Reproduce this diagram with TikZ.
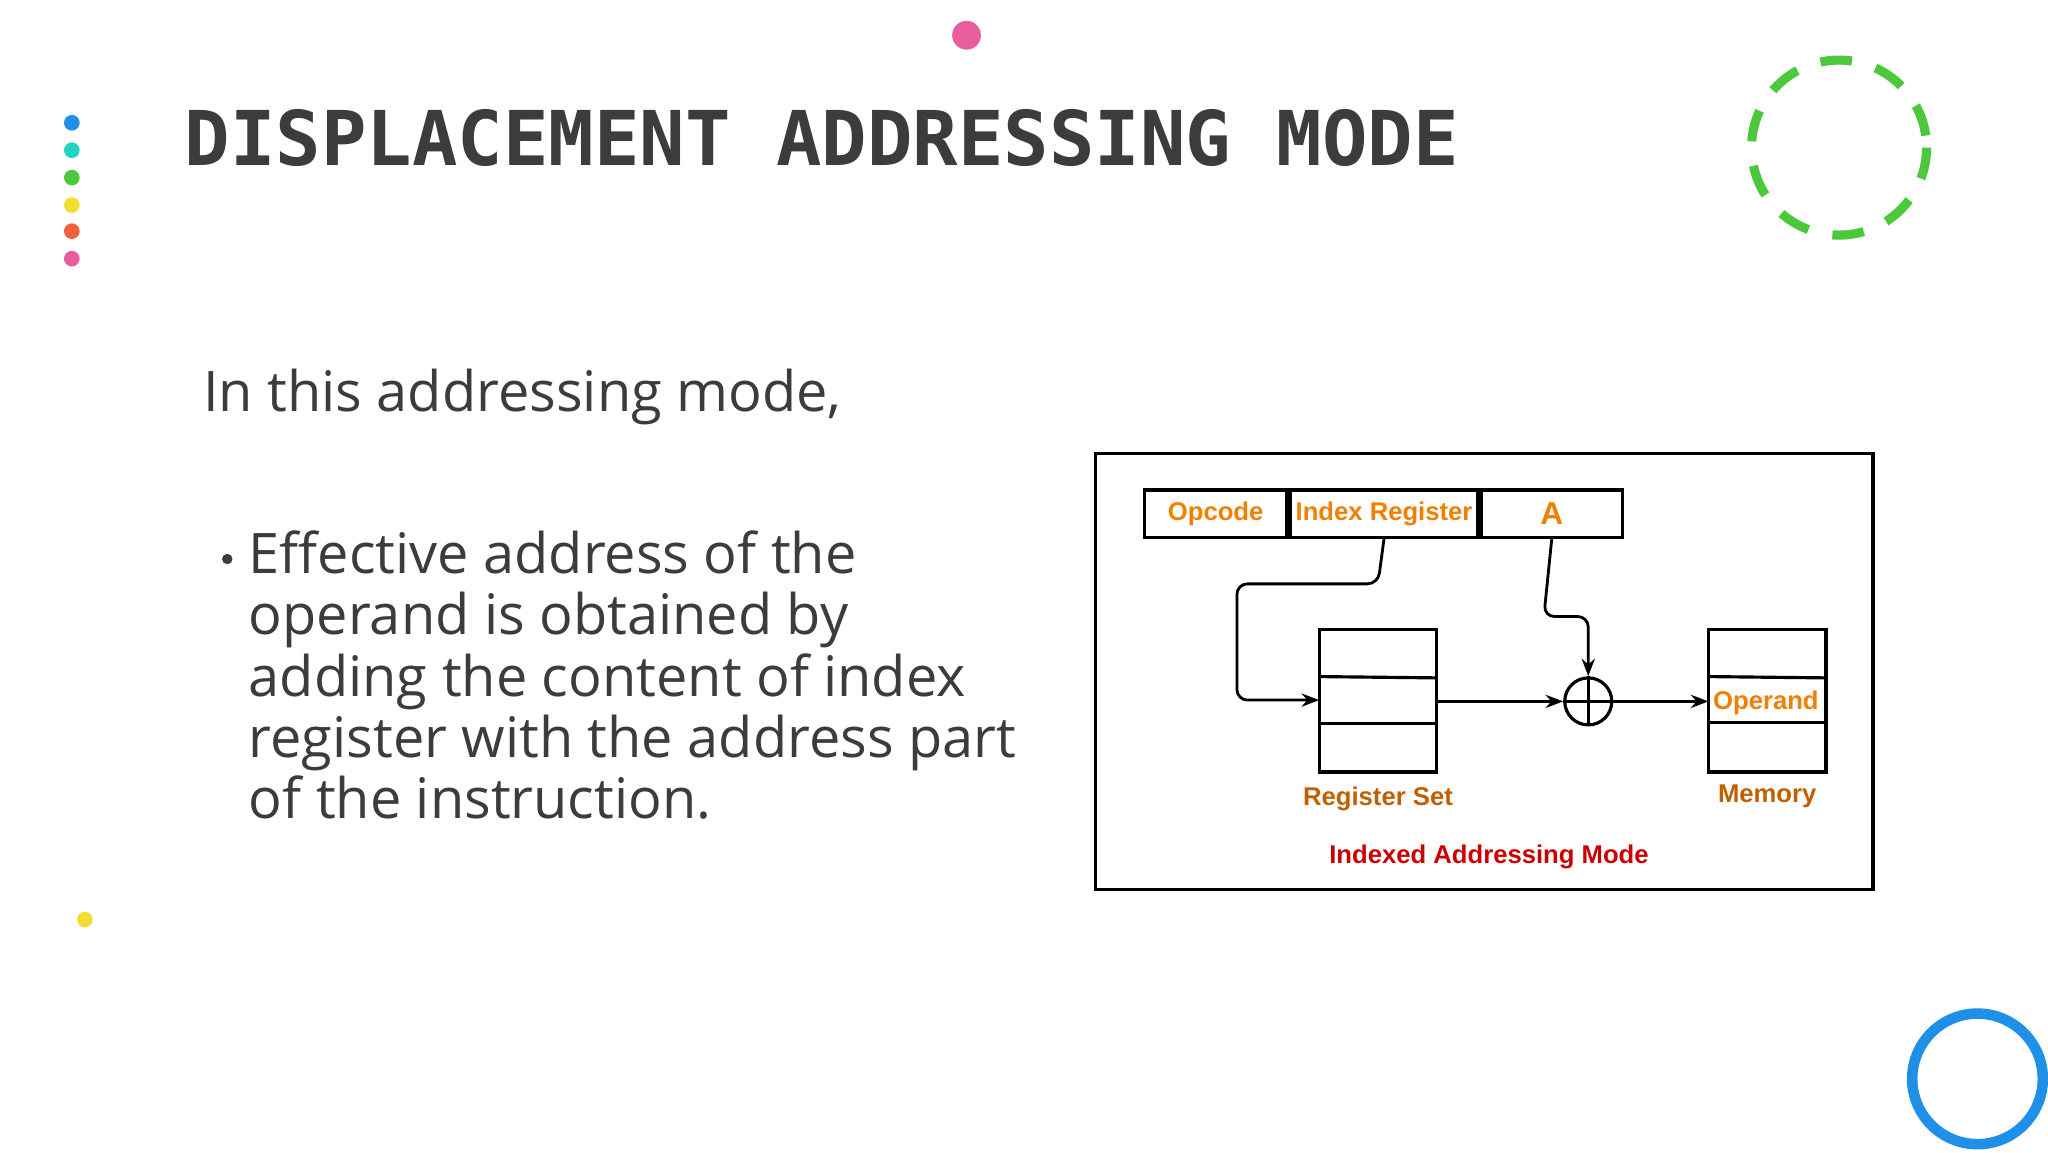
\documentclass[tikz,border=0pt]{standalone}
\usepackage{fontspec}
\setmainfont{Open Sans}
\newfontfamily\titlefont{DejaVu Sans Mono}
\newfontfamily\figfont{Liberation Sans}
\usetikzlibrary{positioning,arrows.meta}
\definecolor{txtgray}{HTML}{3C3C3C}
\definecolor{figorange}{HTML}{F08000}
\definecolor{figbrown}{HTML}{C06000}
\definecolor{figred}{HTML}{CC0000}
\definecolor{d1}{HTML}{1E90E8}
\definecolor{d2}{HTML}{22D3C0}
\definecolor{d3}{HTML}{4CC83C}
\definecolor{d4}{HTML}{F2DE30}
\definecolor{d5}{HTML}{F2603C}
\definecolor{d6}{HTML}{E85D9E}
\tikzset{
  figtext/.style={font=\figfont\bfseries\fontsize{7.3}{9}\selectfont},
  cell/.style={draw,line width=0.9pt,minimum height=36*0.1306mm,inner sep=0pt,
    figtext,text=figorange},
  conn/.style={line width=0.8pt,-{Stealth[length=5pt]},rounded corners=3pt}
}
\newcommand{\regbox}[3]{
\draw [line width=0.9pt] (#1,482) rectangle (#1+90,591);
\draw [line width=0.9pt] (#1,#2) -- (#1+90,#2+1);
\draw [line width=0.9pt] (#1,#3) -- (#1+90,#3);
}
\begin{document}
\begin{tikzpicture}[x=0.1306mm,y=-0.1306mm]
\useasboundingbox [fill=white] (0,0) rectangle (1568,882);

% decoration
\fill [d6] (740,27) circle (11);
\foreach \yy/\cc in {94/d1,115/d2,136/d3,157/d4,177/d5,198/d6}
  \fill [\cc] (55,\yy) circle (6);
\fill [d4] (65,704) circle (6);
\draw [d3,line width=2.6pt,dash pattern=on 9pt off 7pt] (1408,113) circle (67);
\draw [d1,line width=3pt] (1514,826) circle (50);

% text
\node (title) [anchor=west,text=txtgray,font=\titlefont\bfseries\fontsize{21.5}{26}\selectfont] at (132,106) {DISPLACEMENT ADDRESSING MODE};
\node (intro) [anchor=west,text=txtgray,font=\fontsize{15.9}{18}\selectfont] at (146,304) {In this addressing mode,};
\node (bullet) [anchor=north west,text=txtgray,align=left,font=\fontsize{15.9}{17.4}\selectfont,inner sep=0pt] at (190,406)
  {Effective address of the\\operand is obtained by\\adding the content of index\\register with the address part\\of the instruction.};
\fill [txtgray] (174,428) circle (4);

% figure
\draw [line width=0.9pt] (839,347) rectangle (1434,681);
\node (opcode) [cell,minimum width=109*0.1306mm,anchor=north west] at (875,374) {Opcode};
\node (index) [cell,minimum width=144*0.1306mm,right=0pt of opcode] {Index Register};
\node (addr) [cell,minimum width=108*0.1306mm,right=0pt of index,font=\figfont\bfseries\fontsize{9}{11}\selectfont] {A};
\regbox{1010}{518}{554}
\regbox{1308}{518}{553}
\coordinate (regin) at (1010,536);
\coordinate (regout) at (1101,537);
\coordinate (memin) at (1308,537);
\node (sum) [circle,draw,line width=0.9pt,minimum size=36*0.1306mm,inner sep=0pt] at (1216,537) {};
\draw [line width=0.9pt] (sum.north) -- (sum.south) (sum.west) -- (sum.east);
\node (operand) [text=figorange,figtext] at (1352,538) {Operand};
\node (regset) [text=figbrown,figtext] at (1055,612) {Register Set};
\node (memory) [text=figbrown,figtext] at (1353,610) {Memory};
\node (caption) [text=figred,figtext] at (1140,656) {Indexed Addressing Mode};

\draw [conn] (index.south) -- (1055,447) -- (947,447) -- (947,536) -- (regin);
\draw [conn] (addr.south) -- (1182,472) -- (1216,472) -- (sum.north);
\draw [conn] (regout) -- (sum.west);
\draw [conn] (sum.east) -- (memin);
\end{tikzpicture}
\end{document}
